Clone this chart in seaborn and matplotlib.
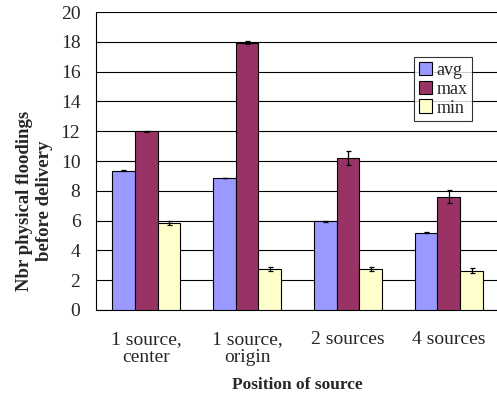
import matplotlib
matplotlib.use("Agg")
import matplotlib.pyplot as plt
import seaborn as sns
import pandas as pd
import numpy as np

categories = ["1 source,\ncenter", "1 source,\norigin", "2 sources", "4 sources"]
series = ["avg", "max", "min"]
avg_vals = [9.35, 8.85, 5.95, 5.2]
max_vals = [12.0, 17.95, 10.2, 7.6]
min_vals = [5.85, 2.75, 2.75, 2.65]
avg_err = [0.03, 0.02, 0.02, 0.03]
max_err = [0.03, 0.08, 0.45, 0.45]
min_err = [0.12, 0.13, 0.13, 0.17]
colors = ["#9999FF", "#993366", "#FFFFCC"]

vals = {"avg": avg_vals, "max": max_vals, "min": min_vals}
errs = {"avg": avg_err, "max": max_err, "min": min_err}
rows = []
for s in series:
    for c, v, e in zip(categories, vals[s], errs[s]):
        rows.append({"cat": c, "series": s, "value": v, "err": e})
df = pd.DataFrame(rows)

sns.set_style("white")
plt.rcParams["font.family"] = ["Liberation Serif", "DejaVu Serif"]

fig = plt.figure(figsize=(4.97, 3.94), dpi=100)
ax = fig.add_axes([0.1926, 0.2132, 0.812, 0.7563])

sns.barplot(data=df, x="cat", y="value", hue="series", order=categories,
            hue_order=series, palette=colors, errorbar=None, width=0.68,
            edgecolor="black", linewidth=0.8, saturation=1, ax=ax, zorder=3)

for s, cont in zip(series, ax.containers):
    xs = [p.get_x() + p.get_width() / 2 for p in cont.patches]
    ax.errorbar(xs, vals[s], yerr=errs[s], fmt="none", ecolor="black",
                elinewidth=0.9, capsize=1.8, capthick=0.9, zorder=4)

ax.set_ylim(0, 20)
ax.set_xlim(-0.5, 3.5)
ax.set_yticks(np.arange(0, 21, 2))
ax.yaxis.grid(True, color="black", linewidth=0.8, zorder=0)
ax.set_axisbelow(True)
for side in ["top", "right"]:
    ax.spines[side].set_visible(False)
for side in ["left", "bottom"]:
    ax.spines[side].set_color("black")
    ax.spines[side].set_linewidth(0.8)

ax.set_xticks(range(len(categories)))
ax.set_xticklabels(categories, fontsize=14, linespacing=1.1)
ax.set_xticks([-0.5, 0.5, 1.5, 2.5], minor=True)
ax.tick_params(axis="x", which="major", length=0, pad=15)
ax.tick_params(axis="x", which="minor", length=5, width=0.8, color="black", direction="out")
ax.tick_params(axis="y", length=6, width=0.8, color="black", direction="out", labelsize=14, pad=5)

ax.set_xlabel("Position of source", fontsize=12.5, fontweight="bold", labelpad=8)
ax.set_ylabel("Nbr physical floodings\nbefore delivery", fontsize=13.5, fontweight="bold",
              linespacing=1.25)
ax.yaxis.set_label_coords(-0.105, 0.366)

leg = ax.legend(loc="upper left", bbox_to_anchor=(0.789, 0.849), fontsize=13,
                frameon=True, fancybox=False, handlelength=0.75, handleheight=0.8,
                handletextpad=0.25, borderpad=0.25, labelspacing=0.1, borderaxespad=0)
leg.get_frame().set_edgecolor("black")
leg.get_frame().set_linewidth(0.8)
leg.set_title(None)

fig.savefig("out.png", dpi=100)
